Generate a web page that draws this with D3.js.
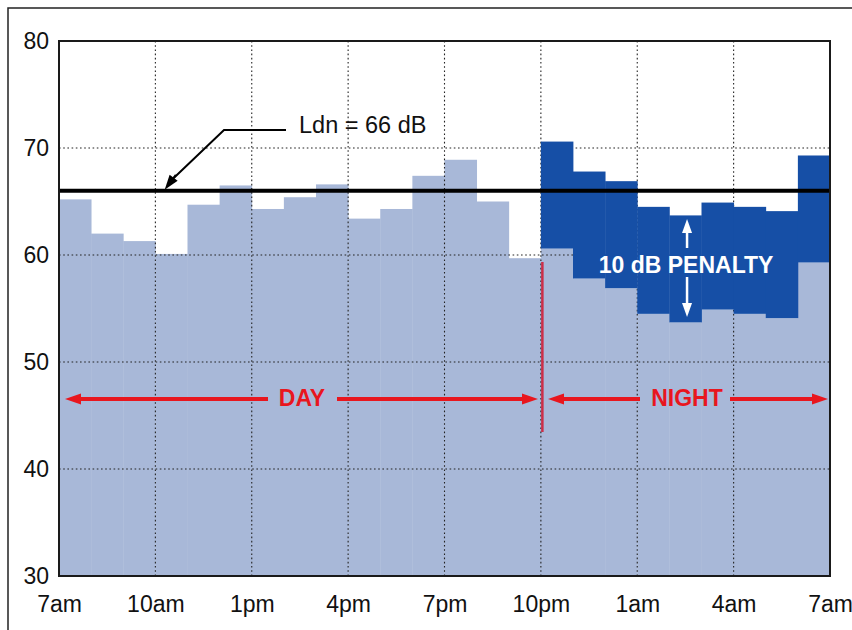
<!DOCTYPE html>
<html>
<head>
<meta charset="utf-8">
<script src="https://cdn.jsdelivr.net/npm/d3@7"></script>
<style>
  html, body { margin: 0; padding: 0; background: #fff; }
  svg { display: block; }
  text { font-family: "Liberation Sans", Arial, Helvetica, sans-serif; }
</style>
</head>
<body>
<svg id="chart" width="852" height="630"></svg>
<script>
// ---- data ----
const xTickLabels = ["7am", "10am", "1pm", "4pm", "7pm", "10pm", "1am", "4am", "7am"];
const xTickHours = [0, 3, 6, 9, 12, 15, 18, 21, 24];
const yTicks = [30, 40, 50, 60, 70, 80];
// hourly levels, 7am–10pm (day)
const dayLevels = [65.2, 62.0, 61.3, 60.1, 64.7, 66.5, 64.3, 65.4, 66.6, 63.4, 64.3, 67.4, 68.9, 65.0, 59.7];
// hourly levels, 10pm–7am (night, actual measured)
const nightLevels = [60.6, 57.8, 56.9, 54.5, 53.7, 54.9, 54.5, 54.1, 59.3];
const nightPenalty = 10;
const ldn = 66;

(function () {
// ---- layout ----
const svg = d3.select("#chart");
const pL = 59, pR = 830, pT = 41, pB = 576;
const x = d3.scaleLinear().domain([0, 24]).range([pL, pR]);
const y = d3.scaleLinear().domain([30, 80]).range([pB, pT]);

const lightBlue = "#a8b8d8";
const darkBlue = "#164fa6";
const red = "#e8161e";

// outer frame
svg.append("rect").attr("x", 8).attr("y", 8).attr("width", 900).attr("height", 700)
  .attr("fill", "#fff").attr("stroke", "#222").attr("stroke-width", 1.5);

const dayBars = dayLevels.map((v, i) => ({ h: i, v }));
const nightBars = nightLevels.map((v, i) => ({ h: 15 + i, v }));
const allLight = dayBars.concat(nightBars);

// light (measured) bars
svg.append("g").selectAll("rect").data(allLight).join("rect")
  .attr("x", d => x(d.h))
  .attr("width", d => x(d.h + 1) - x(d.h) + 0.4)
  .attr("y", d => y(d.v))
  .attr("height", d => y(30) - y(d.v))
  .attr("fill", lightBlue);

// gridlines
const grid = svg.append("g").attr("stroke", "#222").attr("stroke-width", 1.1)
  .attr("stroke-dasharray", "1.6,2.6");
grid.selectAll("line.h").data([40, 50, 60, 70]).join("line").attr("class", "h")
  .attr("x1", pL).attr("x2", pR).attr("y1", d => y(d)).attr("y2", d => y(d));
grid.selectAll("line.v").data(xTickHours.slice(1, -1)).join("line").attr("class", "v")
  .attr("y1", pT).attr("y2", pB).attr("x1", d => x(d)).attr("x2", d => x(d));

// night penalty bars
svg.append("g").selectAll("rect").data(nightBars).join("rect")
  .attr("x", d => x(d.h))
  .attr("width", d => x(d.h + 1) - x(d.h) + 0.4)
  .attr("y", d => y(d.v + nightPenalty))
  .attr("height", d => y(d.v) - y(d.v + nightPenalty))
  .attr("fill", darkBlue);

// Ldn line
svg.append("line").attr("x1", pL).attr("x2", pR)
  .attr("y1", y(ldn)).attr("y2", y(ldn))
  .attr("stroke", "#000").attr("stroke-width", 4);

// plot frame
svg.append("rect").attr("x", pL).attr("y", pT)
  .attr("width", pR - pL).attr("height", pB - pT)
  .attr("fill", "none").attr("stroke", "#1a1a1a").attr("stroke-width", 2);

// axes
const yAxis = svg.append("g").attr("transform", `translate(${pL},0)`)
  .call(d3.axisLeft(y).tickValues(yTicks).tickSize(0).tickPadding(10).tickFormat(d3.format("d")));
yAxis.select(".domain").remove();
yAxis.selectAll("text").attr("font-size", 23).attr("fill", "#111")
  .style("font-family", "'Liberation Sans', Arial, sans-serif");

const xAxis = svg.append("g").attr("transform", `translate(0,${pB})`)
  .call(d3.axisBottom(x).tickValues(xTickHours).tickSize(0).tickPadding(20)
    .tickFormat((d, i) => xTickLabels[i]));
xAxis.select(".domain").remove();
xAxis.selectAll("text").attr("font-size", 23).attr("fill", "#111")
  .style("font-family", "'Liberation Sans', Arial, sans-serif");

// helper: arrow with triangular head
function arrow(x1, y1, x2, y2, color, width, headLen, headW) {
  const ang = Math.atan2(y2 - y1, x2 - x1);
  const bx = x2 - headLen * Math.cos(ang), by = y2 - headLen * Math.sin(ang);
  svg.append("line").attr("x1", x1).attr("y1", y1).attr("x2", bx).attr("y2", by)
    .attr("stroke", color).attr("stroke-width", width);
  const px = Math.sin(ang) * headW / 2, py = -Math.cos(ang) * headW / 2;
  svg.append("path")
    .attr("d", `M${x2},${y2}L${bx + px},${by + py}L${bx - px},${by - py}Z`)
    .attr("fill", color);
}

// Ldn annotation
svg.append("path")
  .attr("d", `M286,130L224,130L${x(3.45)},${y(ldn) - 9}`)
  .attr("fill", "none").attr("stroke", "#000").attr("stroke-width", 2);
arrow(x(3.45) + 6, y(ldn) - 16, x(3.29), y(ldn) - 1, "#000", 2, 15, 10);
svg.append("text").attr("x", 299).attr("y", 132.5).attr("font-size", 23.5)
  .attr("fill", "#111").text("Ldn = 66 dB");

// 10 dB penalty annotation
const pX = x(19.55);
svg.append("text").attr("x", pX - 1).attr("y", 272.5).attr("text-anchor", "middle")
  .attr("font-size", 23).attr("font-weight", "bold").attr("fill", "#fff")
  .text("10 dB PENALTY");
arrow(pX, 248, pX, 219, "#fff", 2.5, 14, 10);
arrow(pX, 277, pX, 317, "#fff", 2.5, 14, 10);

// day / night
svg.append("line").attr("x1", x(15) + 1.5).attr("x2", x(15) + 1.5).attr("y1", 262).attr("y2", 432)
  .attr("stroke", "#cc2f48").attr("stroke-width", 2.5);
const ay = 399;
arrow(268, ay, 65, ay, red, 4, 16, 11);
arrow(337, ay, 538, ay, red, 4, 16, 11);
arrow(640, ay, 548, ay, red, 4, 16, 11);
arrow(730, ay, 828, ay, red, 4, 16, 11);
svg.append("text").attr("x", 302).attr("y", 406).attr("text-anchor", "middle")
  .attr("font-size", 23).attr("font-weight", "bold").attr("fill", red).text("DAY");
svg.append("text").attr("x", 687).attr("y", 406).attr("text-anchor", "middle")
  .attr("font-size", 23).attr("font-weight", "bold").attr("fill", red).text("NIGHT");
})();
</script>
</body>
</html>
